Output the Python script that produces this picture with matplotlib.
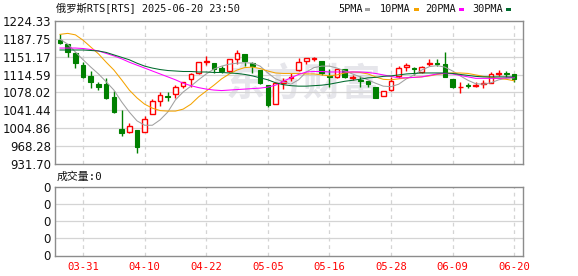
import matplotlib
matplotlib.use("Agg")
import matplotlib.pyplot as plt
from matplotlib.patches import Rectangle

# daily candles, 2025-03-26 .. 2025-06-20
opens = [1185, 1177, 1158, 1134, 1112, 1095, 1095, 1068, 1004, 998,
         1001, 997, 1033, 1061, 1071, 1074, 1092, 1105, 1117, 1141,
         1138, 1128, 1121, 1146, 1156, 1138, 1124, 1093, 1055, 1097,
         1107, 1124, 1143, 1146, 1143, 1112, 1109, 1126, 1108, 1104,
         1102, 1090, 1071, 1083, 1112, 1130, 1129, 1119, 1136, 1138,
         1136, 1105, 1089, 1093, 1092, 1096, 1098, 1115, 1117, 1115]
highs = [1197, 1178, 1160, 1141, 1123, 1100, 1107, 1081, 1042, 1015,
         1001, 1029, 1064, 1080, 1080, 1093, 1100, 1117, 1141, 1153,
         1139, 1133, 1146, 1165, 1156, 1141, 1124, 1094, 1098, 1107,
         1117, 1148, 1149, 1151, 1143, 1126, 1127, 1126, 1114, 1111,
         1102, 1090, 1082, 1109, 1132, 1139, 1130, 1132, 1146, 1146,
         1160, 1105, 1100, 1097, 1100, 1103, 1119, 1124, 1121, 1116]
lows = [1177, 1151, 1129, 1107, 1088, 1083, 1064, 1037, 988, 996,
        955, 997, 1033, 1051, 1061, 1067, 1087, 1090, 1116, 1134,
        1117, 1118, 1120, 1136, 1132, 1117, 1096, 1048, 1054, 1085,
        1102, 1121, 1136, 1143, 1114, 1090, 1108, 1107, 1104, 1090,
        1090, 1067, 1070, 1082, 1107, 1121, 1114, 1118, 1132, 1132,
        1109, 1088, 1076, 1087, 1090, 1088, 1097, 1112, 1109, 1100]
closes = [1179, 1160, 1139, 1110, 1100, 1090, 1066, 1038, 996, 1010,
          967, 1023, 1061, 1072, 1068, 1090, 1099, 1116, 1140, 1143,
          1126, 1121, 1146, 1158, 1143, 1132, 1097, 1053, 1097, 1102,
          1109, 1141, 1148, 1148, 1117, 1109, 1126, 1109, 1109, 1102,
          1095, 1067, 1081, 1102, 1128, 1134, 1126, 1131, 1138, 1136,
          1109, 1090, 1090, 1092, 1094, 1098, 1115, 1117, 1116, 1105]

ma5 = [1187, 1177, 1161, 1145, 1130, 1116, 1100, 1083, 1059, 1038,
       1020, 1011, 1011, 1022, 1038, 1063, 1079, 1091, 1104, 1116,
       1126, 1132, 1136, 1138, 1139, 1138, 1132, 1118, 1106, 1100,
       1095, 1104, 1120, 1129, 1132, 1132, 1128, 1122, 1116, 1110,
       1104, 1097, 1091, 1090, 1095, 1106, 1114, 1124, 1131, 1133,
       1130, 1122, 1112, 1103, 1096, 1095, 1098, 1104, 1107, 1108]
ma10 = [1197, 1199, 1196, 1185, 1171, 1157, 1140, 1124, 1104, 1083,
        1067, 1054, 1046, 1041, 1040, 1040, 1044, 1054, 1069, 1081,
        1093, 1106, 1116, 1124, 1129, 1130, 1127, 1122, 1118, 1117,
        1117, 1117, 1116, 1116, 1114, 1112, 1114, 1118, 1120, 1119,
        1116, 1110, 1105, 1104, 1106, 1108, 1109, 1110, 1112, 1115,
        1117, 1118, 1118, 1117, 1114, 1111, 1109, 1107, 1105, 1102]
ma20 = [1169, 1169, 1169, 1168, 1166, 1163, 1158, 1153, 1147, 1140,
        1134, 1128, 1122, 1116, 1110, 1104, 1097, 1092, 1088, 1085,
        1083, 1082, 1083, 1084, 1085, 1086, 1087, 1089, 1093, 1101,
        1108, 1115, 1120, 1121, 1121, 1120, 1120, 1120, 1120, 1120,
        1119, 1117, 1114, 1111, 1108, 1108, 1109, 1110, 1113, 1116,
        1117, 1116, 1113, 1110, 1107, 1107, 1107, 1107, 1108, 1109]
ma30 = [1165, 1165, 1165, 1165, 1164, 1163, 1160, 1155, 1150, 1145,
        1138, 1132, 1128, 1125, 1123, 1122, 1121, 1121, 1120, 1120,
        1119, 1119, 1118, 1117, 1115, 1112, 1108, 1104, 1098, 1094,
        1092, 1091, 1091, 1092, 1093, 1095, 1098, 1101, 1103, 1105,
        1108, 1109, 1111, 1112, 1114, 1116, 1117, 1118, 1118, 1118,
        1118, 1117, 1115, 1113, 1111, 1110, 1110, 1110, 1110, 1110]

price_ticks = [931.70, 968.28, 1004.86, 1041.44, 1078.02,
               1114.59, 1151.17, 1187.75, 1224.33]
date_pos = [3, 11, 19, 27, 35, 43, 51, 59]
date_labels = ['03-31', '04-10', '04-22', '05-05', '05-16', '05-28', '06-09', '06-20']
vol_ticks = [0, 1, 2, 3, 4]

UP = '#ff0000'
DOWN = '#008000'
FRAME = '#8c8c8c'
GRID = '#d4d4d4'
MONO = ['DejaVu Sans Mono', 'Noto Sans CJK SC']

W, H = 578, 276
fig = plt.figure(figsize=(W / 100, H / 100), dpi=100)
ax = fig.add_axes([55 / W, 1 - 164 / H, 468 / W, 143 / H])
axv = fig.add_axes([55 / W, 1 - 255.5 / H, 468 / W, 69 / H])

# watermark
ax.text(0.53, 0.55, '东方财富', transform=ax.transAxes, ha='center', va='center',
        fontsize=28, fontweight='bold', color='#e6e6eb', family='Noto Sans CJK SC', zorder=0)

n = len(closes)
bw = 0.6
for i in range(n):
    o, h, l, c = opens[i], highs[i], lows[i], closes[i]
    top, bot = max(o, c), min(o, c)
    if c >= o:
        ax.vlines(i, top, h, color=UP, lw=1, zorder=2)
        ax.vlines(i, l, bot, color=UP, lw=1, zorder=2)
        ax.add_patch(Rectangle((i - bw / 2, bot), bw, max(top - bot, 0.6),
                               facecolor='white', edgecolor=UP, lw=1, zorder=3))
    else:
        ax.vlines(i, l, h, color=DOWN, lw=1, zorder=2)
        ax.add_patch(Rectangle((i - bw / 2, bot), bw, max(top - bot, 0.6),
                               facecolor=DOWN, edgecolor=DOWN, lw=0.8, zorder=3))

x = list(range(n))
ax.plot(x, ma5, color='#a0a0a0', lw=0.75, zorder=4)
ax.plot(x, ma10, color='#f5a300', lw=0.75, zorder=4)
ax.plot(x, ma20, color='#ff00ff', lw=0.75, zorder=4)
ax.plot(x, ma30, color='#006b2e', lw=0.75, zorder=4)

xl = (-0.65, 60.15)
for a in (ax, axv):
    a.set_xlim(*xl)
    for s in a.spines.values():
        s.set_color(FRAME)
        s.set_linewidth(1)
    a.tick_params(length=0, labelsize=8.5, colors='#111111', pad=3)
    a.set_xticks(date_pos)
    for p in date_pos:
        a.axvline(p, color=GRID, lw=0.9, ls=(0, (3, 3)), zorder=1)

ax.set_ylim(price_ticks[0], price_ticks[-1])
ax.set_yticks(price_ticks)
ax.set_yticklabels(['%.2f' % v for v in price_ticks])
ax.set_xticklabels([])
for v in price_ticks[1:-1]:
    ax.axhline(v, color=GRID, lw=0.9, zorder=1)

axv.set_ylim(vol_ticks[0], vol_ticks[-1])
axv.set_yticks(vol_ticks)
axv.set_yticklabels(['0'] * len(vol_ticks))
for v in vol_ticks[1:-1]:
    axv.axhline(v, color=GRID, lw=0.9, zorder=1)
axv.set_xticklabels(date_labels, color='#ff0000', family='DejaVu Sans Mono', fontsize=7.6)
axv.tick_params(axis='x', pad=5)

# header
fig.text(56 / W, 1 - 9 / H, '俄罗斯RTS[RTS] 2025-06-20 23:50', family=MONO,
         fontsize=7.4, va='center', ha='left', color='#111111')
fig.text(57 / W, 1 - 177 / H, '成交量:0', family=MONO,
         fontsize=7.8, va='center', ha='left', color='#111111')

legend = [('5PMA', '#a0a0a0', 338), ('10PMA', '#f5a300', 380),
          ('20PMA', '#ff00ff', 425), ('30PMA', '#006b2e', 472)]
for name, col, px in legend:
    t = fig.text(px / W, 1 - 9 / H, name, family=MONO, fontsize=7.4,
                 va='center', ha='left', color='#111111')
    sx = px + 6.1 * len(name) + 3
    fig.add_artist(Rectangle((sx / W, 1 - 11 / H), 5 / W, 3.5 / H,
                             transform=fig.transFigure, facecolor=col, edgecolor='none'))

fig.savefig('out.png', dpi=100)
